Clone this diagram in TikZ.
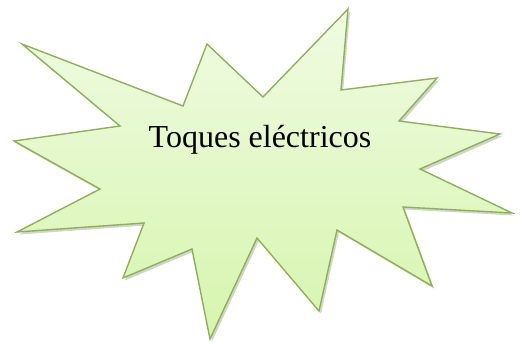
\documentclass[tikz,border=0pt]{standalone}
\usepackage{fontspec}
\setmainfont{Liberation Serif}
\usetikzlibrary{shadows,shadings}
\definecolor{starline}{HTML}{8DB255}
\definecolor{startop}{HTML}{F0FBE2}
\definecolor{starbot}{HTML}{D6F5AE}
\tikzset{
  burst/.style={draw=starline, line width=1.4pt, line join=miter,
    top color=startop, bottom color=starbot,
    drop shadow={opacity=0.35, shadow xshift=2pt, shadow yshift=-2.5pt}},
  label/.style={font=\fontsize{32}{38}\selectfont, text=black, inner sep=0pt}
}
\begin{document}
\begin{tikzpicture}[x=1pt,y=-1pt]
\useasboundingbox (0,0) rectangle (520,343);
\path[burst] (22,44) -- (183,106) -- (207,44) -- (263,97) -- (348,9) -- (341,90)
  -- (437,78) -- (399,121) -- (500,134) -- (420,169) -- (512,213) -- (403,207)
  -- (432,286) -- (337,230) -- (319,311) -- (257,238) -- (210,339) -- (192,249)
  -- (123,278) -- (144,223) -- (17,232) -- (100,189) -- (14,141) -- (120,126) -- cycle;
\node[label, anchor=base] (title) at (260,147) {Toques eléctricos};
\end{tikzpicture}
\end{document}
